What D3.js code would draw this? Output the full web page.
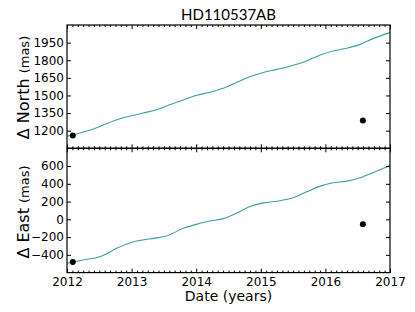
<!DOCTYPE html>
<html>
<head>
<meta charset="utf-8">
<script src="https://cdn.jsdelivr.net/npm/d3@7"></script>
<style>
  body { margin: 0; background: #fff; }
  text { font-family: "DejaVu Sans", sans-serif; }
</style>
</head>
<body>
<svg id="chart" width="415" height="312"></svg>
<script>
// model track
var northYears = [2012.00, 2012.20, 2012.41, 2012.61, 2012.82, 2013.00, 2013.18, 2013.39, 2013.59,
                  2013.80, 2014.01, 2014.21, 2014.42, 2014.63, 2014.83, 2015.04, 2015.25, 2015.45,
                  2015.71, 2015.92, 2016.12, 2016.33, 2016.54, 2016.74, 2017.00];
var northVals  = [1152, 1181, 1214, 1259, 1301, 1327, 1350, 1378, 1420,
                  1462, 1502, 1527, 1561, 1612, 1659, 1696, 1722, 1749,
                  1794, 1845, 1879, 1902, 1935, 1984, 2035];

var eastYears = [2012.00, 2012.25, 2012.51, 2012.77, 2013.03, 2013.28, 2013.54, 2013.80, 2014.06,
                 2014.21, 2014.42, 2014.63, 2014.83, 2015.04, 2015.25, 2015.50, 2015.71, 2015.92,
                 2016.12, 2016.33, 2016.54, 2016.74, 2017.00];
var eastVals  = [-495, -458, -421, -326, -252, -221, -188, -101, -45,
                 -19, 8, 72, 144, 185, 204, 242, 310, 374,
                 412, 430, 469, 525, 605];

// measured epochs
var obsYears = [2012.09, 2016.58];
var obsNorth = [1158, 1287];
var obsEast  = [-480, -56];

var yearTicks  = [2012, 2013, 2014, 2015, 2016, 2017];
var northTicks = [1200, 1350, 1500, 1650, 1800, 1950];
var eastTicks  = [-400, -200, 0, 200, 400, 600];

var lineColor = "#3a9fa0";

var svg = d3.select("#chart");
svg.append("rect").attr("width", 415).attr("height", 312).attr("fill", "#fff");

var left = 67, right = 390;
var topPanel = {y0: 25, y1: 148.3};
var botPanel = {y0: 148.3, y1: 272.6};

var x = d3.scaleLinear().domain([2012, 2017]).range([left, right]);
var yN = d3.scaleLinear().domain([1050, 2100]).range([topPanel.y1, topPanel.y0]);
var yE = d3.scaleLinear().domain([-600, 800]).range([botPanel.y1, botPanel.y0]);

var minorYears = d3.range(0, 61).map(function(i){ return 2012 + i / 12; })
    .filter(function(d, i){ return i % 12 != 0; });

var fmt = d3.format("d");

function panel(y, p, ticks, yearsArr, valsArr, obsVals, showLabels) {
    var g = svg.append("g");

    // curve
    var line = d3.line()
        .x(function(d) { return x(d[0]); })
        .y(function(d) { return y(d[1]); })
        .curve(d3.curveCatmullRom.alpha(0.5));
    g.append("path")
        .datum(d3.zip(yearsArr, valsArr))
        .attr("fill", "none")
        .attr("stroke", lineColor)
        .attr("stroke-width", 1.1)
        .attr("d", line);

    g.selectAll("circle.obs")
        .data(d3.zip(obsYears, obsVals))
        .enter().append("circle")
        .attr("class", "obs")
        .attr("cx", function(d) { return x(d[0]); })
        .attr("cy", function(d) { return y(d[1]); })
        .attr("r", 3)
        .attr("fill", "#000");

    // y axes, ticks pointing in
    g.append("g")
        .attr("transform", "translate(" + left + ",0)")
        .call(d3.axisLeft(y).tickValues(ticks).tickSizeInner(-4).tickSizeOuter(0)
              .tickPadding(3).tickFormat(fmt));
    g.append("g")
        .attr("transform", "translate(" + right + ",0)")
        .call(d3.axisRight(y).tickValues(ticks).tickSizeInner(-4).tickSizeOuter(0).tickFormat(""));

    // x axes, major + monthly minor
    g.append("g")
        .attr("transform", "translate(0," + p.y1 + ")")
        .call(d3.axisBottom(x).tickValues(yearTicks).tickSizeInner(-4).tickSizeOuter(0)
              .tickPadding(5).tickFormat(showLabels ? fmt : ""));
    g.append("g")
        .attr("transform", "translate(0," + p.y1 + ")")
        .call(d3.axisBottom(x).tickValues(minorYears).tickSizeInner(-2).tickSizeOuter(0).tickFormat(""));
    g.append("g")
        .attr("transform", "translate(0," + p.y0 + ")")
        .call(d3.axisTop(x).tickValues(yearTicks).tickSizeInner(-4).tickSizeOuter(0).tickFormat(""));
    g.append("g")
        .attr("transform", "translate(0," + p.y0 + ")")
        .call(d3.axisTop(x).tickValues(minorYears).tickSizeInner(-2).tickSizeOuter(0).tickFormat(""));

    g.selectAll(".domain").remove();
    g.selectAll(".tick line").attr("stroke", "#000").attr("stroke-width", 1);
    g.selectAll(".tick text").attr("font-size", 12).attr("fill", "#000")
        .style("font-family", "'DejaVu Sans', sans-serif");

    g.append("rect")
        .attr("x", left).attr("y", p.y0)
        .attr("width", right - left).attr("height", p.y1 - p.y0)
        .attr("fill", "none").attr("stroke", "#000").attr("stroke-width", 1.2);
    return g;
}

panel(yN, topPanel, northTicks, northYears, northVals, obsNorth, false);
panel(yE, botPanel, eastTicks, eastYears, eastVals, obsEast, true);

// title
svg.append("text")
    .attr("x", (left + right) / 2)
    .attr("y", 20)
    .attr("text-anchor", "middle")
    .style("font-family", "Lato, sans-serif")
    .attr("font-size", 15)
    .text("HD110537AB");

// y labels
function yLabel(word, cy) {
    var t = svg.append("text")
        .attr("transform", "translate(29," + cy + ") rotate(-90)")
        .attr("text-anchor", "middle");
    t.append("tspan").attr("font-size", 16).text("\u0394 " + word + " ");
    t.append("tspan").attr("font-size", 13).text("(mas)");
}
yLabel("North", 87.5);
yLabel("East", 212);

// x label
svg.append("text")
    .attr("x", (left + right) / 2)
    .attr("y", 301)
    .attr("text-anchor", "middle")
    .attr("font-size", 14)
    .text("Date (years)");
</script>
</body>
</html>
